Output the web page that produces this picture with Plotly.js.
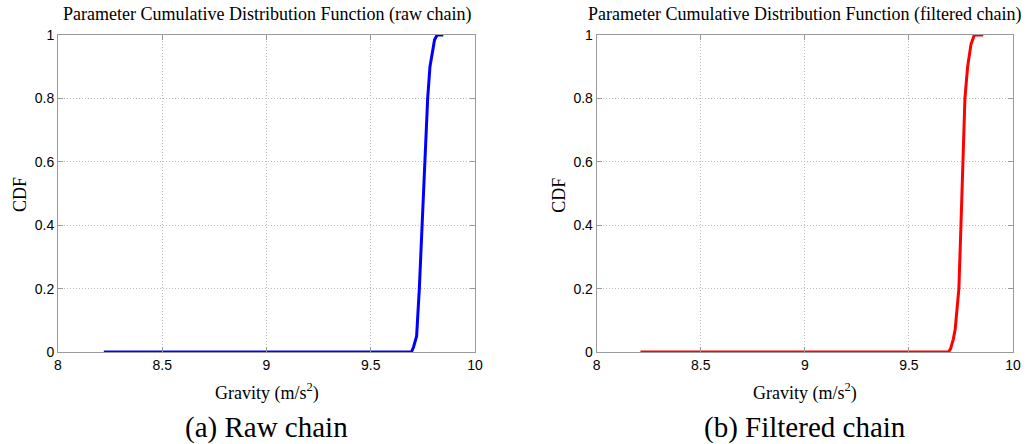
<!DOCTYPE html>
<html>
<head>
<meta charset="utf-8">
<script src="https://cdn.plot.ly/plotly-3.0.1.min.js"></script>
<style>html,body{margin:0;padding:0;background:#fff;}#chart{width:1031px;height:444px;}</style>
</head>
<body>
<div id="chart"></div>
<script>
// Raw chain CDF
const rawGravity = [8.22, 9.695, 9.705, 9.72, 9.733, 9.747, 9.759, 9.773, 9.784, 9.795, 9.806, 9.818, 9.848];
const rawCdf     = [0,    0,     0.015, 0.05, 0.2,   0.4,   0.6,   0.8,   0.9,   0.95,  0.985, 1,     1];
// Filtered chain CDF
const filtGravity = [8.21, 9.69, 9.70, 9.713, 9.722, 9.740, 9.750, 9.760, 9.769, 9.782, 9.798, 9.814, 9.857];
const filtCdf     = [0,    0,    0.01, 0.04,  0.07,  0.2,   0.4,   0.6,   0.8,   0.9,   0.97,  1,     1];

const xTicks = [8, 8.5, 9, 9.5, 10];
const xTickLabels = ['8', '8.5', '9', '9.5', '10'];
const yTicks = [0, 0.2, 0.4, 0.6, 0.8, 1];
const yTickLabels = ['0', '0.2', '0.4', '0.6', '0.8', '1'];

const titles = ['Parameter Cumulative Distribution Function (raw chain)', 'Parameter Cumulative Distribution Function (filtered chain)'];
const captions = ['(a) Raw chain', '(b) Filtered chain'];
const xLabel = 'Gravity (m/s<sup>2</sup>)';
const yLabel = 'CDF';

const traces = [
  {x: rawGravity, y: rawCdf, xaxis: 'x', yaxis: 'y', mode: 'lines', line: {color: '#0000ff', width: 3}, hoverinfo: 'skip'},
  {x: filtGravity, y: filtCdf, xaxis: 'x2', yaxis: 'y2', mode: 'lines', line: {color: '#ff0000', width: 3}, hoverinfo: 'skip'}
];

const W = 1031, H = 444;
const xd1 = [58 / W, 475 / W];
const xd2 = [596.7 / W, 1013 / W];
const yd = [(H - 352) / H, (H - 35) / H];

const sans = '"Liberation Sans", Arial, sans-serif';
const serif = '"Liberation Serif", "Times New Roman", serif';

function axisBase() {
  return {
    showline: true, linecolor: '#9a9a9a', linewidth: 1, mirror: 'ticks', ticks: 'inside', ticklen: 5,
    tickcolor: '#9a9a9a', showgrid: true, gridcolor: '#bdbdbd', griddash: '1px,2px', gridwidth: 1,
    zeroline: false, tickfont: {family: sans, size: 14, color: '#000'}
  };
}
function xax(domain, anchor) {
  return Object.assign(axisBase(), {domain: domain, anchor: anchor, range: [8, 10], tickvals: xTicks, ticktext: xTickLabels});
}
function yax(domain, anchor) {
  return Object.assign(axisBase(), {domain: domain, anchor: anchor, range: [0, 1], tickvals: yTicks, ticktext: yTickLabels});
}

const annotations = [];
[[xd1, 0], [xd2, 1]].forEach(([d, i]) => {
  const cx = (d[0] + d[1]) / 2;
  annotations.push({text: titles[i], xref: 'paper', yref: 'paper', x: cx, y: (H - 14) / H, xanchor: 'center', yanchor: 'middle', showarrow: false, font: {family: serif, size: 18, color: '#000'}});
  annotations.push({text: xLabel, xref: 'paper', yref: 'paper', x: cx, y: (H - 392) / H, xanchor: 'center', yanchor: 'middle', showarrow: false, font: {family: serif, size: 18, color: '#000'}});
  annotations.push({text: captions[i], xref: 'paper', yref: 'paper', x: cx, y: (H - 427) / H, xanchor: 'center', yanchor: 'middle', showarrow: false, font: {family: serif, size: 29, color: '#000'}});
  annotations.push({text: yLabel, xref: 'paper', yref: 'paper', x: (d[0] * W - 38) / W, y: (H - 195) / H, xanchor: 'center', yanchor: 'middle', textangle: -90, showarrow: false, font: {family: serif, size: 18, color: '#000'}});
});

const layout = {
  width: W, height: H, margin: {l: 0, r: 0, t: 0, b: 0}, showlegend: false,
  paper_bgcolor: '#fff', plot_bgcolor: '#fff',
  xaxis: xax(xd1, 'y'), yaxis: yax(yd, 'x'),
  xaxis2: xax(xd2, 'y2'), yaxis2: yax(yd, 'x2'),
  annotations: annotations
};

Plotly.newPlot('chart', traces, layout, {staticPlot: true});
</script>
</body>
</html>
